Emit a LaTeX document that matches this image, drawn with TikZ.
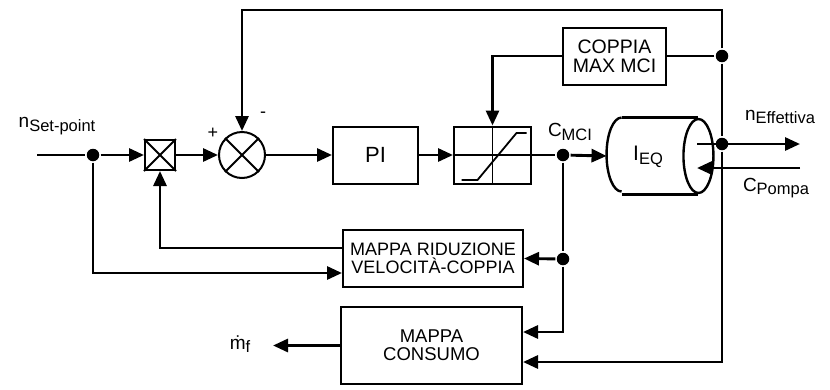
\documentclass[tikz,border=0pt]{standalone}
\usepackage{fontspec}
\setmainfont{Liberation Sans}
\usetikzlibrary{arrows.meta,positioning,calc}

\newcommand\pedice[1]{\raisebox{-0.35ex}{\fontsize{16.5}{16.5}\selectfont #1}}

\begin{document}
\begin{tikzpicture}[x=1pt,y=-1pt,line width=2.9pt,font=\fontsize{19}{19}\selectfont,
  freccia/.style={-{Triangle[length=15pt,width=13pt]}},
  blocco/.style={draw,line width=2pt,inner sep=0pt,align=center},
  punto/.style={circle,fill,inner sep=0pt,minimum size=12.5pt}]
\useasboundingbox (0,0) rectangle (830,389);
% blocchi della catena diretta
\node[blocco,minimum size=30pt] (mul) at (160,155) {};
\draw[line width=2pt] (mul.north west) -- (mul.south east) (mul.north east) -- (mul.south west);
\node[blocco,circle,minimum size=46pt] (sum) at (242,155) {};
\draw[line width=2pt] (sum.north west) -- (sum.south east) (sum.north east) -- (sum.south west);
\node[blocco,minimum width=85pt,minimum height=57pt,font=\fontsize{22}{22}\selectfont] (pi) at (375.5,155) {PI};
\node[blocco,minimum width=77pt,minimum height=57pt] (sat) at (492.5,155) {};
\draw[line width=1.8pt] (sat.west) -- (sat.east) (sat.north) -- (sat.south);
\draw[line width=1.8pt] ($(sat.center)+(-31,25)$) -- ++(16,0) -- ($(sat.center)+(24,-22)$) -- ++(10,0);
\node[blocco,minimum width=103pt,minimum height=57pt,font=\fontsize{19.5}{19}\selectfont] (cmax) at (614.5,56) {COPPIA\\MAX MCI};
\node[blocco,minimum width=180pt,minimum height=57pt,font=\fontsize{18}{18}\selectfont] (rid) at (433,258.5) {MAPPA RIDUZIONE\\VELOCITÀ-COPPIA};
\node[blocco,minimum width=181pt,minimum height=77pt,font=\fontsize{18.5}{18}\selectfont] (cons) at (431.5,345.5) {MAPPA\\CONSUMO};
% inerzia equivalente
\node[minimum width=104pt,minimum height=74pt,inner sep=0pt] (cyl) at (660,156) {};
\draw[line width=2.4pt] ([xshift=15pt]cyl.north west) -- ([xshift=-15pt]cyl.north east)
  ([xshift=15pt]cyl.south west) -- ([xshift=-15pt]cyl.south east);
\draw[line width=2.4pt] ([xshift=15pt]cyl.north west) arc[start angle=270,end angle=90,x radius=15,y radius=37];
\draw[line width=2.4pt] ([xshift=-15pt]cyl.east) ellipse[x radius=15,y radius=37];
\node[font=\fontsize{21}{21}\selectfont] (ieq) at (648,157) {I\pedice{EQ}};
% collegamenti
\coordinate (ingr) at (37,155);
\node[punto] (j1) at (93,155) {};
\node[punto] (jc) at (563,155) {};
\node[punto] (jd) at (563,259) {};
\node[punto] (jm) at (722,56) {};
\node[punto] (jn) at (722,144) {};
\coordinate (alto) at (722,10);
\coordinate (neff) at (697,144);
\coordinate (neffo) at (800,144);
\coordinate (cpi) at (800,168);
\coordinate (cpo) at (697,168);
\coordinate (mfo) at (273,345.5);
\draw (ingr) -- (j1);
\draw[freccia] (j1) -- (mul);
\draw[freccia] (mul) -- (sum);
\draw[freccia] (sum) -- (pi);
\draw[freccia] (pi) -- (sat);
\draw (sat) -- (jc);
\draw[freccia] (jc) -- (cyl.west);
\draw[freccia] (jm) -- (alto) -| (sum.north);
\draw (jm) -- (cmax.east);
\draw[freccia] (cmax.west) -| (sat.north);
\draw (jm) -- (jn);
\draw[freccia] (jn) |- ([yshift=-16.5pt]cons.east);
\draw[freccia] (neff) -- (neffo);
\draw[freccia] (cpi) -- (cpo);
\draw (jc) -- (jd);
\draw[freccia] (jd) -- (rid.east);
\draw[freccia] (jd) |- ([yshift=13.5pt]cons.east);
\draw[freccia] ([yshift=10.5pt]rid.west) -| (mul.south);
\draw[freccia] (j1) |- ([yshift=-14.5pt]rid.west);
\draw[freccia] (cons.west) -- (mfo);
% etichette
\node (nset) at (57,126) {n\pedice{Set-point}};
\node[font=\fontsize{18}{18}\selectfont] (piu) at (213,133) {+};
\node[font=\fontsize{18}{18}\selectfont] (meno) at (263,115) {-};
\node (cmci) at (570,132) {C\pedice{MCI}};
\node (nefl) at (780,117) {n\pedice{Effettiva}};
\node (cpl) at (776,188) {C\pedice{Pompa}};
\node (mf) at (240,344) {\.{m}\pedice{f}};
\end{tikzpicture}
\end{document}
